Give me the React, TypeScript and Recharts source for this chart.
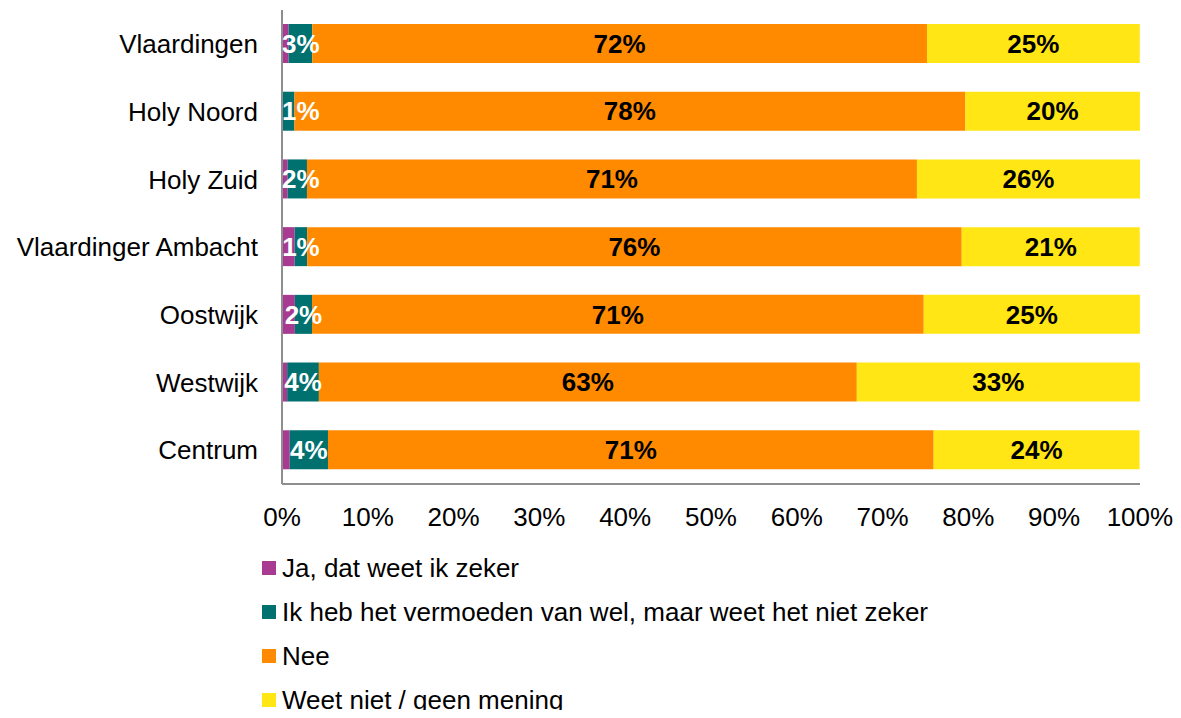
import React from "react";
import {
  BarChart,
  Bar,
  XAxis,
  YAxis,
  Legend,
  LabelList,
} from "recharts";

// wijken, top to bottom
const areas = [
  "Vlaardingen",
  "Holy Noord",
  "Holy Zuid",
  "Vlaardinger Ambacht",
  "Oostwijk",
  "Westwijk",
  "Centrum",
];

// share of respondents per answer (%)
const jaZeker = [0.77, 0, 0.66, 1.48, 1.5, 0.6, 0.9];
const vermoeden = [2.76, 1.45, 2.25, 1.45, 2.0, 3.7, 4.46];
const nee = [71.65, 78.2, 71.1, 76.3, 71.3, 62.7, 70.6];
const weetNiet = [24.8, 20.35, 26.0, 20.75, 25.2, 33.0, 24.0];

const xTicks = [0, 10, 20, 30, 40, 50, 60, 70, 80, 90, 100];

const series = [
  { key: "ja", name: "Ja, dat weet ik zeker", color: "#A93A92", label: null },
  {
    key: "vermoeden",
    name: "Ik heb het vermoeden van wel, maar weet het niet zeker",
    color: "#00716F",
    label: "#ffffff",
  },
  { key: "nee", name: "Nee", color: "#FF8A00", label: "#000000" },
  { key: "weetNiet", name: "Weet niet / geen mening", color: "#FFE614", label: "#000000" },
];

const data = areas.map((area, i) => ({
  area,
  ja: jaZeker[i],
  vermoeden: vermoeden[i],
  nee: nee[i],
  weetNiet: weetNiet[i],
}));

const FONT = '"Liberation Sans", Arial, sans-serif';
const AXIS_GRAY = "#8e8e8e";
const FONT_SIZE = 26;
const Y_AXIS_WIDTH = 282;
const PLOT_LEFT = Y_AXIS_WIDTH; // margin.left is 0

const pct = (v: number) => `${Math.round(v)}%`;

// Excel keeps data labels inside the plot area, so small ones get pushed right
function ClampedLabel(props: any) {
  const { x, y, width, height, value, fill } = props;
  const text = pct(Number(value));
  const textW = (text.length - 1) * 0.556 * FONT_SIZE + 0.889 * FONT_SIZE;
  const cx = Number(x) + Number(width) / 2;
  const start = Math.max(cx - textW / 2, PLOT_LEFT);
  return (
    <text
      x={start}
      y={Number(y) + Number(height) / 2}
      dy="0.355em"
      textAnchor="start"
      fill={fill}
      fontSize={FONT_SIZE}
      fontWeight="bold"
      fontFamily={FONT}
    >
      {text}
    </text>
  );
}

function LegendList() {
  return (
    <div style={{ fontFamily: FONT, fontSize: FONT_SIZE, color: "#000" }}>
      {series.map((s) => (
        <div
          key={s.key}
          style={{ display: "flex", alignItems: "center", height: 44, whiteSpace: "nowrap" }}
        >
          <span
            style={{
              display: "inline-block",
              width: 14,
              height: 14,
              background: s.color,
              marginRight: 6,
            }}
          />
          <span>{s.name}</span>
        </div>
      ))}
    </div>
  );
}

export default function App() {
  return (
    <div
      style={{
        margin: -8,
        width: 1181,
        height: 718,
        overflow: "hidden",
        background: "#fff",
        fontFamily: FONT,
      }}
    >
      <BarChart
        width={1181}
        height={718}
        data={data}
        layout="vertical"
        margin={{ top: 10, right: 41, left: 0, bottom: 4 }}
        barSize={39}
      >
        <XAxis
          type="number"
          domain={[0, 100]}
          ticks={xTicks}
          tickFormatter={(v: number) => `${v}%`}
          tickLine={false}
          tickMargin={18}
          height={60}
          axisLine={{ stroke: AXIS_GRAY, strokeWidth: 2 }}
          tick={{ fill: "#000", fontSize: FONT_SIZE, fontFamily: FONT }}
          interval={0}
        />
        <YAxis
          type="category"
          dataKey="area"
          width={Y_AXIS_WIDTH}
          tickLine={false}
          tickMargin={18}
          axisLine={{ stroke: AXIS_GRAY, strokeWidth: 2 }}
          tick={{ fill: "#000", fontSize: FONT_SIZE, fontFamily: FONT }}
          interval={0}
        />
        <Legend
          content={() => <LegendList />}
          layout="vertical"
          verticalAlign="bottom"
          align="center"
          wrapperStyle={{ left: 262, top: 546, width: 900, height: 170 }}
        />
        {series.map((s) => (
          <Bar
            key={s.key}
            dataKey={s.key}
            name={s.name}
            stackId="a"
            fill={s.color}
            isAnimationActive={false}
          >
            {s.label && (
              <LabelList
                dataKey={s.key}
                position="center"
                fill={s.label}
                content={<ClampedLabel fill={s.label} />}
              />
            )}
          </Bar>
        ))}
      </BarChart>
    </div>
  );
}
